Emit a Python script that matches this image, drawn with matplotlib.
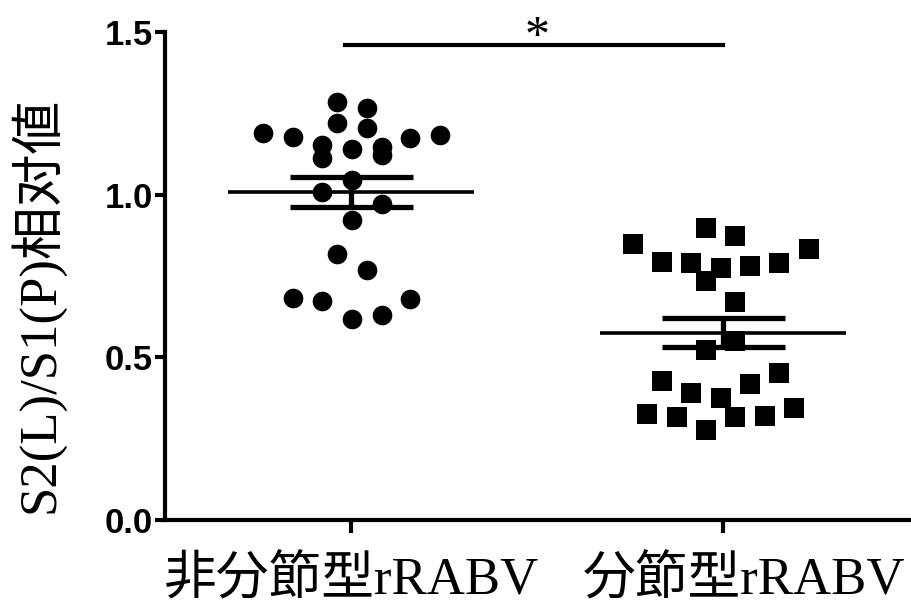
import numpy as np
import matplotlib
matplotlib.use("Agg")
import matplotlib.pyplot as plt
from matplotlib.transforms import ScaledTranslation

# values
group_names = ["非分節型rRABV", "分節型rRABV"]
y_label = "S2(L)/S1(P)相对値"

non_seg_x = [0.763, 0.844, 0.962, 1.043, 0.962, 1.043, 1.159, 1.239, 0.922, 0.922,
             1.003, 1.083, 1.083, 1.003, 0.922, 1.083, 1.003, 0.962, 1.043, 0.844,
             0.922, 1.159, 1.003, 1.083]
non_seg_y = [1.189, 1.178, 1.286, 1.265, 1.219, 1.204, 1.173, 1.183, 1.153, 1.112,
             1.139, 1.148, 1.122, 1.045, 1.009, 0.971, 0.922, 0.818, 0.767, 0.682,
             0.674, 0.679, 0.618, 0.630]

seg_x = [1.758, 1.836, 1.954, 2.032, 1.914, 1.995, 2.073, 2.151, 2.231, 1.954,
         2.032, 2.032, 1.954, 1.836, 2.151, 2.073, 1.914, 1.995, 1.796, 1.876,
         2.032, 2.113, 2.191, 1.954]
seg_y = [0.848, 0.794, 0.897, 0.874, 0.791, 0.774, 0.781, 0.791, 0.832, 0.736,
         0.671, 0.551, 0.523, 0.428, 0.453, 0.417, 0.389, 0.374, 0.325, 0.318,
         0.316, 0.320, 0.343, 0.277]

sig_text = "*"

fig = plt.figure(figsize=(9.12, 6.10), dpi=100)
ax = fig.add_axes([0.181, 0.1475, 0.816, 0.80])

ax.scatter(non_seg_x, non_seg_y, s=200, marker="o", color="black", linewidths=0, zorder=3)
ax.scatter(seg_x, seg_y, s=190, marker="s", color="black", linewidths=0, zorder=3)

# mean and SEM
for pos, vals in [(1, non_seg_y), (2, seg_y)]:
    vals = np.array(vals)
    mean = vals.mean()
    sem = vals.std(ddof=1) / np.sqrt(len(vals))
    ax.hlines(mean, pos - 0.33, pos + 0.33, color="black", lw=2.6, zorder=4)
    ax.hlines([mean - sem, mean + sem], pos - 0.165, pos + 0.165, color="black", lw=3.8, zorder=4)
    ax.vlines(pos, mean - sem, mean + sem, color="black", lw=3.8, zorder=4)

# significance bar
ax.plot([0.984, 2.0], [1.46, 1.46], color="black", lw=3, clip_on=False)
ax.text(1.5, 1.445, sig_text, ha="center", va="baseline", fontsize=36,
        family="Liberation Serif", clip_on=False)

ax.set_xlim(0.5, 2.5)
ax.set_ylim(0, 1.5)
ax.set_yticks([0.0, 0.5, 1.0, 1.5])
ax.set_yticklabels(["0.0", "0.5", "1.0", "1.5"], fontsize=25, fontweight="bold",
                   family="Liberation Sans")
ax.set_xticks([1, 2])
ax.set_xticklabels(group_names, fontsize=38,
                   family=["Liberation Serif", "Noto Sans CJK JP"])
ax.set_ylabel(y_label, fontsize=38, family=["Liberation Serif", "Noto Sans CJK JP"])
ax.yaxis.set_label_coords(-0.135, 0.44)

for side in ["top", "right"]:
    ax.spines[side].set_visible(False)
for side in ["left", "bottom"]:
    ax.spines[side].set_linewidth(3)
ax.tick_params(axis="y", length=7, width=3, pad=2)
ax.tick_params(axis="x", length=9, width=3, pad=17)

# second group label sits a bit right of its tick in the reference
lbls = ax.get_xticklabels()
lbls[1].set_transform(lbls[1].get_transform() + ScaledTranslation(0.21, 0, fig.dpi_scale_trans))

fig.savefig("out.png", dpi=100)
